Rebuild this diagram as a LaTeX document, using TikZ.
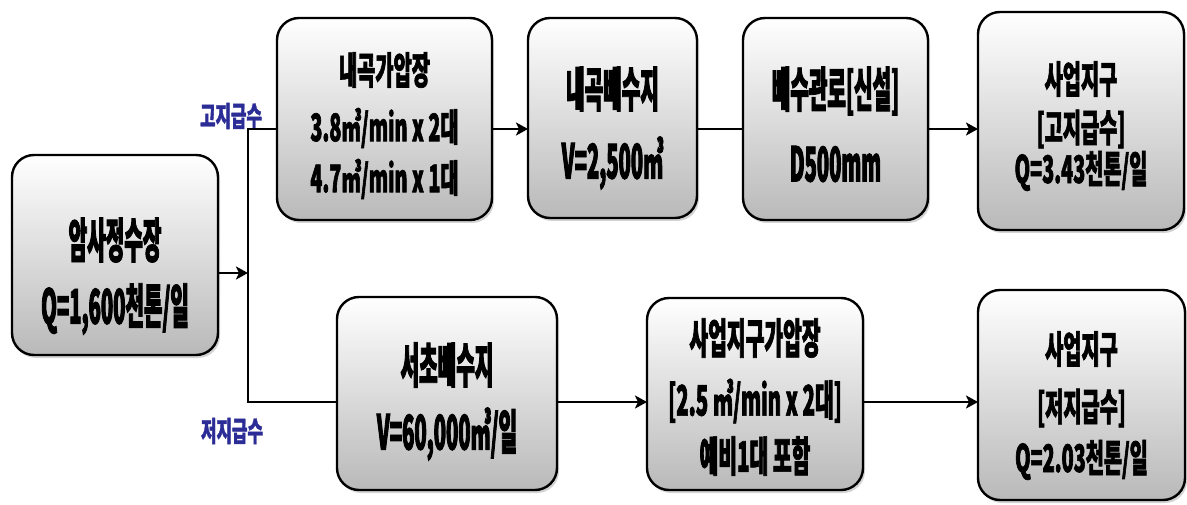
\documentclass[tikz,border=0pt]{standalone}
\usepackage{fontspec}
\usetikzlibrary{arrows.meta,shadows}
\newfontfamily\krA{Noto Sans CJK KR}[FakeStretch=0.42,FakeBold=1.8]
\newfontfamily\krB{Noto Sans CJK KR}[FakeStretch=0.52,FakeBold=1.6]
\newfontfamily\krC{Noto Sans CJK KR}[FakeStretch=0.485,FakeBold=1.6]
\newfontfamily\krL{Noto Sans CJK KR}[FakeStretch=0.6,FakeBold=1.4]
\definecolor{boxbot}{RGB}{185,185,185}
\definecolor{labblue}{RGB}{44,44,150}
\begin{document}
\begin{tikzpicture}[x=1pt,y=1pt,
  box/.style={draw=black,line width=2.4pt,rounded corners=22pt,top color=white,bottom color=boxbot,
    drop shadow={shadow xshift=2pt,shadow yshift=-3pt,opacity=0.35},inner sep=0pt,outer sep=0pt},
  tA/.style={inner sep=0pt,font=\krA\bfseries\fontsize{48}{48}\selectfont},
  tB/.style={inner sep=0pt,font=\krB\bfseries\fontsize{38}{38}\selectfont},
  tC/.style={inner sep=0pt,font=\krC\bfseries\fontsize{42}{42}\selectfont},
  tL/.style={inner sep=0pt,text=labblue,font=\krL\bfseries\fontsize{28}{28}\selectfont},
  conn/.style={line width=2.5pt,line join=miter},
  arr/.style={conn,-{Stealth[length=12pt,width=13pt,inset=3pt]}}]
\useasboundingbox (0,0) rectangle (1187,-505);

% boxes
\node[box,minimum width=206pt,minimum height=200pt] (amsa) at (115,-255) {};
\node[box,minimum width=215pt,minimum height=202pt] (nkg) at (384.5,-119) {};
\node[box,minimum width=169pt,minimum height=200pt] (nkb) at (612.5,-118) {};
\node[box,minimum width=185pt,minimum height=202pt] (bsg) at (835.5,-119) {};
\node[box,minimum width=206pt,minimum height=218pt] (sj1) at (1081,-121) {};
\node[box,minimum width=220pt,minimum height=193pt] (scb) at (447,-393.5) {};
\node[box,minimum width=216pt,minimum height=192pt] (sjg) at (755,-394) {};
\node[box,minimum width=207pt,minimum height=210pt] (sj2) at (1081.5,-395) {};

% texts
\node[tA] (amsa1) at (115,-240) {암사정수장};
\node[tA] (amsa2) at (115,-309) {Q=1,600천톤/일};

\node[tB] (nkg1) at (384.5,-70) {내곡가압장};
\node[tB] (nkg2) at (384.5,-128) {3.8㎥/min x 2대};
\node[tB] (nkg3) at (384.5,-179) {4.7㎥/min x 1대};

\node[tA] (nkb1) at (612.5,-89) {내곡배수지};
\node[tA] (nkb2) at (612.5,-163) {V=2,500㎥};

\node[tA] (bsg1) at (835.5,-91) {배수관로[신설]};
\node[tA] (bsg2) at (835.5,-164) {D500mm};

\node[tB] (sj11) at (1081,-79) {사업지구};
\node[tB] (sj12) at (1081,-129) {[고지급수]};
\node[tB] (sj13) at (1081,-171) {Q=3.43천톤/일};

\node[tA] (scb1) at (447,-365) {서초배수지};
\node[tA] (scb2) at (447,-434) {V=60,000㎥/일};

\node[tC] (sjg1) at (755,-338) {사업지구가압장};
\node[tC] (sjg2) at (755,-401) {[2.5 ㎥/min x 2대]};
\node[tC] (sjg3) at (755,-456) {예비1대 포함};

\node[tB] (sj21) at (1081.5,-349) {사업지구};
\node[tB] (sj22) at (1081.5,-408) {[저지급수]};
\node[tB] (sj23) at (1081.5,-460) {Q=2.03천톤/일};

\node[tL] (hi) at (231,-116) {고지급수};
\node[tL] (lo) at (232,-431) {저지급수};

% connectors
\coordinate (jm) at (248,-273);
\coordinate (jt) at (248,-129);
\coordinate (jb) at (248,-402);
\coordinate (rt) at (0,-129);
\draw[arr] (amsa.east |- jm) -- (jm);
\draw[conn] (jt -| nkg.west) -- (jt) -- (jb) -- (jb -| scb.west);
\draw[arr] (nkg.east |- rt) -- (nkb.west |- rt);
\draw[conn] (nkb.east |- rt) -- (bsg.west |- rt);
\draw[arr] (bsg.east |- rt) -- (sj1.west |- rt);
\draw[arr] (scb.east |- jb) -- (sjg.west |- jb);
\draw[arr] (sjg.east |- jb) -- (sj2.west |- jb);
\end{tikzpicture}
\end{document}
